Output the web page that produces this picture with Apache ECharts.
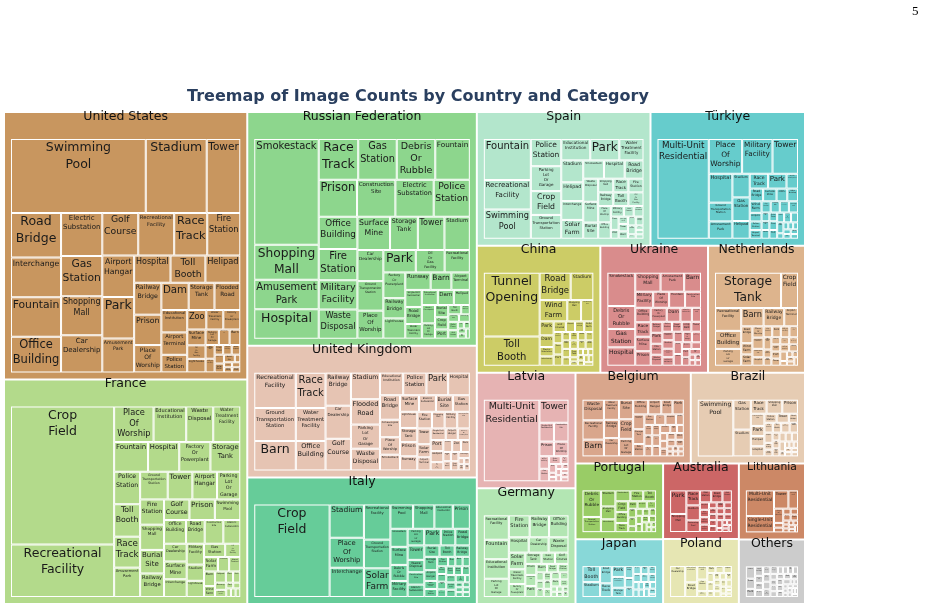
<!DOCTYPE html>
<html>
<head>
<meta charset="utf-8">
<script src="https://cdn.jsdelivr.net/npm/echarts@6/dist/echarts.min.js"></script>
<style>
  html, body { margin: 0; padding: 0; background: #fff; }
  #main { width: 925px; height: 609px; }
</style>
</head>
<body>
<div id="main"></div>
<script>
// countries, in the order they are laid out
const countries = ['United States', 'France', 'Russian Federation', 'United Kingdom', 'Italy', 'Spain', 'Türkiye',
  'China', 'Ukraine', 'Netherlands', 'Latvia', 'Germany', 'Belgium', 'Brazil', 'Portugal', 'Japan',
  'Australia', 'Poland', 'Lithuania', 'Others'];
const countryColors = ['#c8965f', '#b3da8b', '#8dd68d', '#e6c4b3', '#66cc99', '#b3e6cc', '#66cccc',
  '#cccc66', '#d98c8c', '#ddb48d', '#e6b3b3', '#b3e6b3', '#d9a68c', '#e6ccb3', '#99cc66', '#88d8d8',
  '#cc6666', '#e6e6b3', '#cc8866', '#cccccc'];

// image counts per category, one list per country
const usCounts = [['Swimming Pool',241],['Stadium',109],['Tower',60],['Road Bridge',54],['Interchange',48],['Fountain',48],['Office Building',43],['Electric Substation',43],['Gas Station',40],['Shopping Mall',39],['Car Dealership',37],['Golf Course',37],['Recreational Facility',37],['Race Track',34],['Fire Station',34],['Airport Hangar',32],['Park',32],['Amusement Park',26],['Hospital',24],['Toll Booth',23],['Helipad',23],['Railway Bridge',21],['Prison',20],['Place Of Worship',18],['Dam',18],['Storage Tank',17],['Flooded Road',17],['Educational Institution',14],['Airport Terminal',14],['Police Station',11],['Zoo',9],['Water Treatment Facility',8],['Factory Or Powerplant',8],['Surface Mine',7],['Oil Or Gas Facility',6],['Lighthouse',6],['Parking Lot Or Garage',5],['Construction Site',4],['Barn',4],['Ground Transportation Station',3],['Military Facility',3],['Crop Field',2],['Space Facility',2],['Waste Disposal',2],['Smokestack',2],['Solar Farm',2],['Burial Site',2],['Runway',1],['Port',1],['Multi-Unit Residential',1],['Debris Or Rubble',1],['Single-Unit Residential',1]];
const frCounts = [['Crop Field',354],['Recreational Facility',135],['Place Of Worship',35],['Educational Institution',29],['Waste Disposal',24],['Water Treatment Facility',24],['Fountain',25],['Hospital',23],['Factory Or Powerplant',23],['Storage Tank',22],['Police Station',21],['Toll Booth',21],['Race Track',20],['Amusement Park',19],['Ground Transportation Station',19],['Tower',17],['Airport Hangar',17],['Parking Lot Or Garage',16],['Fire Station',15],['Shopping Mall',15],['Burial Site',14],['Railway Bridge',14],['Golf Course',13],['Prison',13],['Swimming Pool',13],['Office Building',13],['Road Bridge',11],['Construction Site',11],['Electric Substation',10],['Car Dealership',10],['Surface Mine',10],['Interchange',10],['Military Facility',9],['Stadium',7],['Lighthouse',7],['Gas Station',7],['Oil Or Gas Facility',5],['Solar Farm',5],['Smokestack',4],['Airport Terminal',4],['Barn',4],['Wind Farm',3],['Helipad',3],['Zoo',2],['Park',2],['Runway',2],['Flooded Road',2],['Port',1],['Debris Or Rubble',1],['Dam',1],['Space Facility',1],['Multi-Unit Residential',1]];
const ruCounts = [['Smokestack',169],['Shopping Mall',56],['Amusement Park',47],['Hospital',47],['Race Track',40],['Gas Station',39],['Debris Or Rubble',39],['Fountain',35],['Prison',35],['Construction Site',35],['Electric Substation',35],['Police Station',33],['Office Building',31],['Fire Station',30],['Military Facility',28],['Waste Disposal',28],['Surface Mine',27],['Storage Tank',23],['Tower',22],['Stadium',21],['Car Dealership',20],['Ground Transportation Station',19],['Place Of Worship',18],['Park',18],['Oil Or Gas Facility',16],['Recreational Facility',14],['Factory Or Powerplant',14],['Railway Bridge',11],['Lighthouse',11],['Runway',11],['Barn',9],['Airport Terminal',8],['Single-Unit Residential',7],['Road Bridge',7],['Water Treatment Facility',6],['Educational Institution',6],['Dam',6],['Helipad',6],['Border Checkpoint',6],['Parking Lot Or Garage',5],['Burial Site',4],['Crop Field',4],['Port',3],['Toll Booth',3],['Airport Hangar',2],['Swimming Pool',2],['Interchange',2],['Solar Farm',2],['Golf Course',2],['Zoo',1],['Flooded Road',1],['Space Facility',1],['Wind Farm',1],['Shipyard',1]];
const ukCounts = [['Recreational Facility',42],['Ground Transportation Station',39],['Barn',35],['Race Track',30],['Water Treatment Facility',28],['Office Building',25],['Railway Bridge',24],['Car Dealership',24],['Golf Course',23],['Stadium',22],['Flooded Road',21],['Parking Lot Or Garage',20],['Waste Disposal',18],['Educational Institution',15],['Police Station',15],['Park',14],['Hospital',14],['Road Bridge',14],['Archaeological Site',10],['Place Of Worship',10],['Smokestack',9],['Surface Mine',9],['Electric Substation',8],['Burial Site',8],['Gas Station',8],['Lighthouse',8],['Storage Tank',7],['Prison',7],['Runway',7],['Fire Station',7],['Shopping Mall',6],['Military Facility',6],['Construction Site',6],['Tower',6],['Solar Farm',5],['Airport Terminal',5],['Single-Unit Residential',5],['Airport Hangar',4],['Factory Or Powerplant',4],['Port',4],['Helipad',4],['Oil Or Gas Facility',3],['Fountain',3],['Zoo',3],['Dam',3],['Swimming Pool',2],['Toll Booth',2],['Amusement Park',2],['Crop Field',2],['Interchange',2],['Multi-Unit Residential',1],['Wind Farm',1],['Debris Or Rubble',1],['Space Facility',1]];
const itCounts = [['Crop Field',202],['Stadium',33],['Place Of Worship',30],['Interchange',29],['Recreational Facility',27],['Ground Transportation Station',22],['Solar Farm',22],['Swimming Pool',16],['Shopping Mall',15],['Educational Institution',13],['Prison',12],['Smokestack',9],['Surface Mine',9],['Debris Or Rubble',8],['Military Facility',8],['Parking Lot Or Garage',8],['Park',8],['Police Station',7],['Road Bridge',7],['Tower',7],['Waste Disposal',6],['Construction Site',6],['Electric Substation',6],['Burial Site',5],['Toll Booth',5],['Railway Bridge',5],['Storage Tank',5],['Airport Hangar',4],['Water Treatment Facility',3],['Gas Station',3],['Fire Station',3],['Zoo',2],['Barn',2],['Hospital',2],['Office Building',2],['Fountain',2],['Amusement Park',2],['Car Dealership',2],['Race Track',2],['Wind Farm',2],['Port',2],['Multi-Unit Residential',2],['Flooded Road',2],['Runway',2],['Oil Or Gas Facility',2],['Golf Course',1],['Dam',1],['Helipad',1],['Lighthouse',1],['Airport Terminal',1],['Single-Unit Residential',1],['Factory Or Powerplant',1]];
const esCounts = [['Fountain',56],['Recreational Facility',40],['Swimming Pool',40],['Police Station',24],['Parking Lot Or Garage',22],['Crop Field',21],['Ground Transportation Station',21],['Educational Institution',18],['Park',18],['Water Treatment Facility',15],['Stadium',14],['Helipad',12],['Interchange',12],['Solar Farm',12],['Smokestack',11],['Hospital',11],['Road Bridge',10],['Waste Disposal',10],['Surface Mine',9],['Burial Site',7],['Shopping Mall',6],['Race Track',6],['Fire Station',6],['Railway Bridge',6],['Toll Booth',6],['Oil Or Gas Facility',6],['Place Of Worship',6],['Office Building',6],['Military Facility',4],['Golf Course',3],['Electric Substation',3],['Dam',3],['Zoo',2],['Storage Tank',2],['Tower',2],['Barn',2],['Lighthouse',2],['Airport Hangar',2],['Car Dealership',2],['Prison',1],['Port',1],['Amusement Park',1],['Construction Site',1]];
const trCounts = [['Multi-Unit Residential',150],['Place Of Worship',34],['Military Facility',31],['Tower',26],['Hospital',20],['Ground Transportation Station',13],['Amusement Park',12],['Stadium',12],['Gas Station',12],['Helipad',9],['Race Track',8],['Park',8],['Border Checkpoint',5],['Road Bridge',5],['Surface Mine',5],['Electric Substation',4],['Office Building',4],['Wind Farm',4],['Airport',3],['Police Station',3],['Airport Terminal',3],['Fire Station',3],['Shopping Mall',3],['Educational Institution',3],['Storage Tank',3],['Swimming Pool',2],['Construction Site',2],['Smokestack',2],['Solar Farm',2],['Dam',2],['Port',2],['Prison',2],['Parking Lot Or Garage',2],['Recreational Facility',2],['Waste Disposal',2],['Fountain',1],['Interchange',1],['Car Dealership',1],['Railway Bridge',1],['Burial Site',1],['Zoo',1],['Lighthouse',1],['Golf Course',1]];
const cnCounts = [['Tunnel Opening',109],['Toll Booth',50],['Road Bridge',26],['Stadium',19],['Wind Farm',18],['Shopping Mall',9],['Construction Site',8],['Park',6],['Dam',5],['Electric Substation',4],['Interchange',4],['Golf Course',4],['Airport',3],['Railway Bridge',3],['Solar Farm',3],['Gas Station',3],['Tower',3],['Port',3],['Office Building',2],['Factory Or Powerplant',2],['Smokestack',2],['Storage Tank',2],['Educational Institution',2],['Hospital',2],['Airport Terminal',2],['Place Of Worship',2],['Swimming Pool',2],['Multi-Unit Residential',2],['Crop Field',2],['Amusement Park',1],['Fountain',1],['Lighthouse',1],['Prison',1],['Surface Mine',1],['Race Track',1],['Zoo',1],['Nuclear Powerplant',1],['Police Station',1],['Recreational Facility',1]];
const uaCounts = [['Smokestack',29],['Debris Or Rubble',20],['Gas Station',16],['Hospital',16],['Shopping Mall',15],['Amusement Park',14],['Barn',10],['Military Facility',9],['Place Of Worship',8],['Fountain',8],['Construction Site',8],['Office Building',7],['Race Track',7],['Surface Mine',7],['Prison',7],['Factory Or Powerplant',7],['Dam',6],['Electric Substation',5],['Storage Tank',4],['Railway Bridge',4],['Park',4],['Fire Station',4],['Waste Disposal',4],['Police Station',3],['Road Bridge',3],['Crop Field',3],['Tower',3],['Educational Institution',3],['Stadium',3],['Ground Transportation Station',3],['Multi-Unit Residential',3],['Airport',3],['Parking Lot Or Garage',3],['Car Dealership',3],['Helipad',3],['Lighthouse',3],['Single-Unit Residential',2],['Oil Or Gas Facility',2],['Port',2],['Interchange',2],['Burial Site',2],['Airport Hangar',1],['Swimming Pool',1],['Golf Course',1],['Recreational Facility',1]];
const nlCounts = [['Storage Tank',74],['Crop Field',19],['Recreational Facility',19],['Office Building',15],['Parking Lot Or Garage',14],['Barn',13],['Railway Bridge',12],['Airport Terminal',8],['Road Bridge',6],['Wind Farm',4],['Solar Farm',4],['Place Of Worship',4],['Educational Institution',4],['Construction Site',3],['Hospital',3],['Fire Station',3],['Park',3],['Military Facility',3],['Shopping Mall',3],['Water Treatment Facility',3],['Gas Station',2],['Electric Substation',2],['Stadium',2],['Swimming Pool',2],['Car Dealership',2],['Flooded Road',2],['Port',2],['Tower',2],['Police Station',2],['Interchange',2],['Lighthouse',2],['Golf Course',1],['Dam',1],['Prison',1],['Helipad',1],['Burial Site',1],['Smokestack',1]];
const lvCounts = [['Multi-Unit Residential',149],['Tower',22],['Single-Unit Residential',9],['Construction Site',9],['Prison',7],['Place Of Worship',7],['Office Building',4],['Gas Station',4],['Solar Farm',3],['Debris Or Rubble',2],['Stadium',2],['Park',1],['Road Bridge',1],['Shopping Mall',1],['Hospital',1],['Fire Station',1],['Educational Institution',1],['Storage Tank',1],['Barn',1],['Smokestack',1]];
const deCounts = [['Recreational Facility',20],['Fountain',16],['Educational Institution',16],['Parking Lot Or Garage',15],['Fire Station',15],['Railway Bridge',14],['Office Building',14],['Hospital',10],['Car Dealership',10],['Waste Disposal',10],['Solar Farm',9],['Water Treatment Facility',8],['Factory Or Powerplant',7],['Storage Tank',6],['Gas Station',5],['Golf Course',5],['Prison',4],['Construction Site',4],['Park',4],['Barn',3],['Road Bridge',3],['Police Station',3],['Stadium',2],['Tower',2],['Shopping Mall',2],['Wind Farm',2],['Electric Substation',2],['Place Of Worship',2],['Smokestack',2],['Swimming Pool',2],['Dam',2],['Crop Field',2],['Military Facility',1],['Helipad',1],['Interchange',1],['Port',1],['Zoo',1],['Burial Site',1]];
const beCounts = [['Waste Disposal',16],['Recreational Facility',15],['Barn',13],['Water Treatment Facility',11],['Railway Bridge',10],['Car Dealership',10],['Burial Site',10],['Crop Field',10],['Parking Lot Or Garage',9],['Office Building',8],['Airport Hangar',7],['Road Bridge',6],['Park',6],['Educational Institution',6],['Storage Tank',6],['Fire Station',5],['Gas Station',4],['Construction Site',4],['Hospital',4],['Smokestack',3],['Golf Course',3],['Electric Substation',3],['Place Of Worship',3],['Police Station',3],['Shopping Mall',3],['Tower',3],['Stadium',3],['Surface Mine',2],['Swimming Pool',2],['Factory Or Powerplant',2],['Ground Transportation Station',2],['Solar Farm',2],['Interchange',2],['Port',2],['Prison',2],['Flooded Road',2],['Oil Or Gas Facility',1],['Zoo',1],['Race Track',1],['Fountain',1],['Helipad',1],['Amusement Park',1]];
const brCounts = [['Swimming Pool',73],['Gas Station',19],['Stadium',17],['Race Track',8],['Shopping Mall',8],['Prison',8],['Construction Site',6],['Park',5],['Helipad',5],['Hospital',5],['Police Station',4],['Tower',4],['Road Bridge',3],['Fire Station',3],['Toll Booth',3],['Car Dealership',3],['Educational Institution',3],['Airport',3],['Office Building',2],['Golf Course',2],['Storage Tank',2],['Place Of Worship',2],['Parking Lot Or Garage',2],['Interchange',2],['Smokestack',2],['Fountain',2],['Recreational Facility',2],['Crop Field',1],['Electric Substation',1],['Dam',1],['Port',1],['Zoo',1],['Surface Mine',1],['Airport Hangar',1],['Waste Disposal',1]];
const ptCounts = [['Debris Or Rubble',21],['Ground Transportation Station',12],['Stadium',10],['Shopping Mall',8],['Interchange',8],['Smokestack',7],['Fire Station',6],['Toll Booth',6],['Crop Field',6],['Office Building',6],['Race Track',5],['Park',3],['Hospital',3],['Place Of Worship',3],['Recreational Facility',3],['Swimming Pool',3],['Fountain',2],['Educational Institution',2],['Road Bridge',2],['Railway Bridge',2],['Parking Lot Or Garage',2],['Solar Farm',2],['Wind Farm',2],['Storage Tank',2],['Gas Station',2],['Golf Course',1],['Port',1],['Prison',1],['Police Station',1]];
const jpCounts = [['Toll Booth',14],['Stadium',13],['Road Bridge',10],['Race Track',8],['Park',7],['Educational Institution',7],['Storage Tank',6],['Railway Bridge',5],['Helipad',4],['Construction Site',4],['Hospital',3],['Shopping Mall',3],['Gas Station',3],['Tower',3],['Office Building',3],['Golf Course',3],['Police Station',2],['Fire Station',2],['Parking Lot Or Garage',2],['Airport',2],['Place Of Worship',2],['Interchange',2],['Swimming Pool',2],['Port',2],['Lighthouse',1]];
const auCounts = [['Park',17],['Shopping Mall',13],['Race Track',9],['Stadium',9],['Swimming Pool',7],['Gas Station',6],['Road Bridge',6],['Golf Course',5],['Hospital',3],['Fire Station',3],['Office Building',3],['Police Station',3],['Construction Site',2],['Educational Institution',2],['Recreational Facility',2],['Car Dealership',2],['Place Of Worship',2],['Airport',2],['Interchange',2],['Storage Tank',2],['Railway Bridge',2],['Tower',2],['Prison',2],['Fountain',2],['Zoo',1],['Dam',1],['Helipad',1],['Port',1],['Solar Farm',1],['Surface Mine',1]];
const plCounts = [['Car Dealership',24],['Educational Institution',10],['Road Bridge',9],['Shopping Mall',7],['Gas Station',6],['Office Building',3],['Park',3],['Stadium',3],['Hospital',3],['Tower',3],['Fire Station',3],['Crop Field',2],['Railway Bridge',2],['Place Of Worship',2],['Storage Tank',2],['Prison',2],['Police Station',2],['Factory Or Powerplant',2],['Solar Farm',2],['Smokestack',2],['Barn',2],['Golf Course',1],['Helipad',1],['Swimming Pool',1],['Waste Disposal',1]];
const ltCounts = [['Multi-Unit Residential',33],['Single-Unit Residential',21],['Tower',12],['Storage Tank',8],['Place Of Worship',6],['Office Building',2],['Shopping Mall',2],['Construction Site',2],['Educational Institution',2],['Hospital',2],['Park',2],['Road Bridge',1],['Gas Station',1],['Fire Station',1],['Smokestack',1],['Stadium',1],['Barn',1],['Solar Farm',1],['Crop Field',1]];
const otherCounts = [['Stadium',6],['Tower',5],['Park',4],['Road Bridge',4],['Shopping Mall',3],['Office Building',3],['Hospital',3],['Gas Station',3],['Fire Station',3],['Educational Institution',3],['Place Of Worship',3],['Railway Bridge',3],['Construction Site',2],['Storage Tank',2],['Crop Field',2],['Police Station',2],['Swimming Pool',2],['Solar Farm',2],['Prison',2],['Interchange',2],['Airport',2],['Port',2],['Golf Course',2],['Barn',2],['Dam',2],['Helipad',2],['Smokestack',2],['Car Dealership',1],['Toll Booth',1],['Factory Or Powerplant',1],['Race Track',1],['Fountain',1],['Wind Farm',1],['Zoo',1],['Lighthouse',1],['Parking Lot Or Garage',1],['Military Facility',1],['Waste Disposal',1],['Surface Mine',1]];

const countryCounts = [usCounts, frCounts, ruCounts, ukCounts, itCounts, esCounts, trCounts, cnCounts, uaCounts,
  nlCounts, lvCounts, deCounts, beCounts, brCounts, ptCounts, jpCounts, auCounts, plCounts, ltCounts, otherCounts];

const treeData = countries.map((name, i) => ({
  name: name,
  itemStyle: { color: countryColors[i], borderColor: countryColors[i] },
  children: countryCounts[i].map(([cat, n]) => ({ name: cat, value: n, itemStyle: { color: countryColors[i] } }))
}));

const chart = echarts.init(document.getElementById('main'));

// text is shrunk so that it fits inside its box
const measure = document.createElement('canvas').getContext('2d');
measure.font = '100px "DejaVu Sans"';
function textEm(s) { return measure.measureText(s).width / 100; }

const rich = {};
const richHead = {};
for (let q = 1; q <= 52; q++) {
  rich['f' + q] = { fontSize: q / 4, lineHeight: q / 4 * 1.3, color: '#1a1a1a', fontFamily: 'DejaVu Sans' };
  richHead['c' + q] = { fontSize: q / 4, color: '#111', fontFamily: 'DejaVu Sans' };
}

function fitLabel(p) {
  let node;
  try {
    node = chart.getModel().getSeriesByIndex(0).getData().tree.getNodeByDataIndex(p.dataIndex);
  } catch (e) {
    return p.name;
  }
  if (!node) return p.name;
  const l = node.getLayout();
  if (node.children && node.children.length) {
    // country header
    const fsHead = Math.min(12.5, (l.width - 14) / textEm(p.name));
    const qh = Math.max(1, Math.min(50, Math.floor(fsHead * 4)));
    return '{c' + qh + '|' + p.name + '}';
  }
  const words = p.name.split(' ');
  const widest = Math.max.apply(null, words.map(textEm));
  const fs = Math.min(12.6, (l.width - 3) / widest, (l.height - 3) / (words.length * 1.3));
  const q = Math.max(1, Math.min(52, Math.floor(fs * 4)));
  return words.map(s => '{f' + q + '|' + s + '}').join('\n');
}

chart.setOption({
  animation: false,
  title: {
    text: 'Treemap of Image Counts by Country and Category',
    left: 187,
    top: 89,
    padding: 0,
    textStyle: { fontFamily: 'DejaVu Sans', fontWeight: 'bold', fontSize: 16, color: '#2a3f5f' }
  },
  graphic: [{
    type: 'text',
    left: 912,
    top: 5,
    style: { text: '5', fontSize: 13, fontFamily: 'Liberation Serif', fill: '#000' }
  }],
  series: [{
    type: 'treemap',
    left: 5,
    top: 113,
    width: 799,
    height: 490,
    roam: false,
    nodeClick: false,
    sort: false,
    squareRatio: 1,
    visibleMin: 0,
    breadcrumb: { show: false },
    label: { show: true, padding: 0, formatter: fitLabel, rich: rich },
    levels: [
      { itemStyle: { borderWidth: 0, gapWidth: 2, borderColor: '#fff' } },
      {
        itemStyle: { borderWidth: 6, gapWidth: 0 },
        upperLabel: {
          show: true,
          height: 26,
          padding: 0,
          overflow: 'none',
          position: 'inside',
          offset: [0, -3],
          color: '#111',
          fontSize: 12.5,
          fontFamily: 'DejaVu Sans',
          rich: richHead
        }
      },
      { itemStyle: { borderWidth: 1, borderColor: '#fff', gapWidth: 0 } }
    ],
    data: treeData
  }]
});
</script>
</body>
</html>
